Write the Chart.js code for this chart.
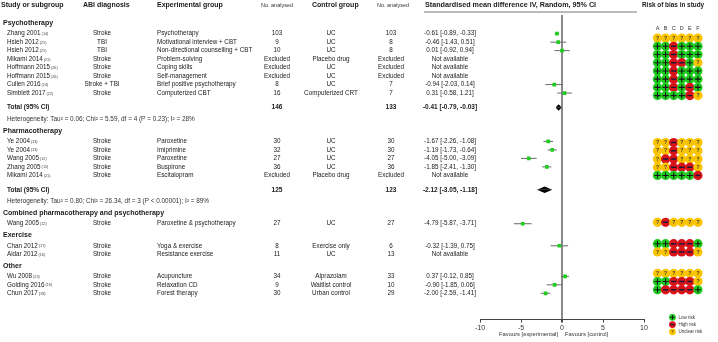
<!DOCTYPE html>
<html>
<head>
<meta charset="utf-8">
<script src="https://cdn.jsdelivr.net/npm/chart.js@4.4.1/dist/chart.umd.min.js"></script>
<style>
  html, body { margin: 0; padding: 0; background: #fff; }
  #wrap { position: relative; width: 718px; height: 342px; }
  canvas { display: block; position: absolute; top: 0; }
  #forest { left: 0; }
  #bias { left: 645px; }
</style>
</head>
<body>
<div id="wrap">
  <canvas id="forest" width="718" height="342"></canvas>
  <canvas id="bias" width="73" height="342"></canvas>
</div>
<script>
// --- données ---
var groupNames = ['Psychotherapy', 'Pharmacotherapy', 'Combined pharmacotherapy and psychotherapy', 'Exercise', 'Other'];
var studyGroup = [0, 0, 0, 0, 0, 0, 0, 0, 1, 1, 1, 1, 1, 2, 3, 3, 4, 4, 4];
var studyNames = ['Zhang 2001', 'Hsieh 2012', 'Hsieh 2012', 'Mikami 2014', 'Hoffmann 2015', 'Hoffmann 2015', 'Cullen 2016', 'Simblett 2017',
  'Ye 2004', 'Ye 2004', 'Wang 2005', 'Zhang 2005', 'Mikami 2014', 'Wang 2005', 'Chan 2012', 'Aidar 2012', 'Wu 2008', 'Golding 2016', 'Chun 2017'];
var studyRefs = ['(14)', '(25)', '(25)', '(21)', '(26)', '(26)', '(24)', '(22)', '(13)', '(13)', '(12)', '(15)', '(21)', '(12)', '(17)', '(16)', '(23)', '(19)', '(18)'];
var diagnosis = ['Stroke', 'TBI', 'TBI', 'Stroke', 'Stroke', 'Stroke', 'Stroke + TBI', 'Stroke',
  'Stroke', 'Stroke', 'Stroke', 'Stroke', 'Stroke', 'Stroke', 'Stroke', 'Stroke', 'Stroke', 'Stroke', 'Stroke'];
var experimental = ['Psychotherapy', 'Motivational interview + CBT', 'Non-directional counselling + CBT', 'Problem-solving', 'Coping skills',
  'Self-management', 'Brief positive psychotherapy', 'Computerized CBT', 'Paroxetine', 'Imiprimine', 'Paroxetine', 'Buspirone',
  'Escitalopram', 'Paroxetine & psychotherapy', 'Yoga & exercise', 'Resistance exercise', 'Acupuncture', 'Relaxation CD', 'Forest therapy'];
var nExperimental = ['103', '9', '10', 'Excluded', 'Excluded', 'Excluded', '8', '16', '30', '32', '27', '36', 'Excluded', '27', '8', '11', '34', '9', '30'];
var control = ['UC', 'UC', 'UC', 'Placebo drug', 'UC', 'UC', 'UC', 'Computerized CRT', 'UC', 'UC', 'UC', 'UC', 'Placebo drug', 'UC',
  'Exercise only', 'UC', 'Alprazolam', 'Waitlist control', 'Urban control'];
var nControl = ['103', '8', '8', 'Excluded', 'Excluded', 'Excluded', '7', '7', '30', '30', '27', '36', 'Excluded', '27', '6', '13', '33', '10', '29'];
var smd = [-0.61, -0.46, 0.01, null, null, null, -0.94, 0.31, -1.67, -1.19, -4.05, -1.85, null, -4.79, -0.32, null, 0.37, -0.90, -2.00];
var ciLow = [-0.89, -1.43, -0.92, null, null, null, -2.03, -0.58, -2.26, -1.73, -5.00, -2.41, null, -5.87, -1.39, null, -0.12, -1.85, -2.59];
var ciHigh = [-0.33, 0.51, 0.94, null, null, null, 0.14, 1.21, -1.08, -0.64, -3.09, -1.30, null, -3.71, 0.75, null, 0.85, 0.06, -1.41];
var riskOfBias = ['??????', '++-+++', '++-+++', '++--+?', '++-+++', '++-+++', '++-+-+', '++++-?',
  '??-???', '??-???', '?--???', '??---?', '+++++-', '?-????', '++---+', '??---?', '??????', '++---?', '+----+'];

var totalGroup = [0, 1];
var totalNExp = ['146', '125'];
var totalNCtrl = ['133', '123'];
var totalSmd = [-0.41, -2.12];
var totalLow = [-0.79, -3.05];
var totalHigh = [-0.03, -1.18];
var heterogeneity = ['Heterogeneity: Tau\u00b2 = 0.06; Chi\u00b2 = 5.59, df = 4 (P = 0.23); I\u00b2 = 28%',
  'Heterogeneity: Tau\u00b2 = 0.80; Chi\u00b2 = 26.34, df = 3 (P < 0.00001); I\u00b2 = 89%'];

var xTicks = [-10, -5, 0, 5, 10];
var biasDomains = ['A', 'B', 'C', 'D', 'E', 'F'];
var biasLegendCodes = ['+', '-', '?'];
var biasLegendLabels = ['Low risk', 'High risk', 'Unclear risk'];

// --- mise en page ---
var W = 718, H = 342;
var PLOT_LEFT = 480, PLOT_RIGHT = 644, PLOT_TOP = 15, PLOT_BOTTOM = 320;
var BIAS_LEFT = 645, BIAS_WIDTH = 73, BIAS_X0 = 653.3, BIAS_STEP = 9.5;
var Y_MAX = 35.9;
var UNIT_PX = (PLOT_BOTTOM - PLOT_TOP) / Y_MAX;
var STEP = { start: 1.2, headerToStudy: 1.0, study: 1, studyToTotal: 1.7, totalToHet: 1.4, nextGroup: 1.6 };
var HEADER_LIFT = 0.25;
var FONT = '"Liberation Sans", Arial, sans-serif';
var BODY = 6.3;
var GREEN = '#1fcc1f', RED = '#d8141a', YELLOW = '#fbc400';
var biasColor = { '+': GREEN, '-': RED, '?': YELLOW };

// positions des lignes
var groupY = [], studyY = [], totalY = [], hetY = [];
var cursor = STEP.start;
groupNames.forEach(function(g, gi) {
  if (gi > 0) cursor += STEP.nextGroup;
  groupY.push(cursor);
  var first = true;
  studyGroup.forEach(function(sg, si) {
    if (sg !== gi) return;
    cursor += first ? STEP.headerToStudy : STEP.study;
    first = false;
    studyY[si] = cursor;
  });
  var ti = totalGroup.indexOf(gi);
  if (ti >= 0) {
    cursor += STEP.studyToTotal; totalY[ti] = cursor;
    cursor += STEP.totalToHet; hetY[ti] = cursor;
  }
});

function fmtCI(m, lo, hi) {
  if (m === null) return 'Not available';
  return m.toFixed(2) + ' [' + lo.toFixed(2) + ', ' + hi.toFixed(2) + ']';
}

function txt(ctx, s, x, y, size, weight, align, color) {
  ctx.font = (weight || 'normal') + ' ' + size + 'px ' + FONT;
  ctx.textAlign = align || 'left';
  ctx.fillStyle = color || '#1a1a1a';
  ctx.fillText(s, x, y);
}

/* 1) graphique principal : forest plot */
var datasets = [];

// intervalles de confiance
smd.forEach(function(m, i) {
  if (m === null) return;
  datasets.push({
    type: 'line', order: 2, data: [{ x: ciLow[i], y: studyY[i] }, { x: ciHigh[i], y: studyY[i] }],
    borderColor: '#6b6b6b', borderWidth: 1, pointRadius: 0, fill: false
  });
});

// estimations
datasets.push({
  type: 'scatter', order: 1,
  data: smd.map(function(m, i) { return m === null ? null : { x: m, y: studyY[i] }; }).filter(Boolean),
  pointStyle: 'rect', pointRadius: 2.6, backgroundColor: GREEN, borderWidth: 0
});

// losanges des totaux
var DIAMOND_H = 0.38;
totalSmd.forEach(function(m, ti) {
  [-1, 1].forEach(function(dir) {
    datasets.push({
      type: 'line', order: 1,
      data: [{ x: totalLow[ti], y: totalY[ti] }, { x: m, y: totalY[ti] + dir * DIAMOND_H }, { x: totalHigh[ti], y: totalY[ti] }],
      borderWidth: 0, borderColor: '#000', backgroundColor: '#000', pointRadius: 0, tension: 0,
      fill: { value: totalY[ti] }
    });
  });
});

var tableText = {
  id: 'tableText',
  afterDraw: function(chart) {
    var ctx = chart.ctx;
    var ys = chart.scales.y, xs = chart.scales.x;
    var py = function(v) { return ys.getPixelForValue(v); };
    ctx.save();
    ctx.textBaseline = 'middle';

    // en-têtes
    var hy = py(-1.18);
    txt(ctx, 'Study or subgroup', 1, hy, 7, 'bold');
    txt(ctx, 'ABI diagnosis', 83, hy, 7, 'bold');
    txt(ctx, 'Experimental group', 157, hy, 7, 'bold');
    txt(ctx, 'No. analysed', 277, hy, 5.5, 'normal', 'center', '#333');
    txt(ctx, 'Control group', 312, hy, 7, 'bold');
    txt(ctx, 'No. analysed', 393, hy, 5.5, 'normal', 'center', '#333');
    txt(ctx, 'Standardised mean difference IV, Random, 95% CI', 425, hy, 7.2, 'bold');
    txt(ctx, 'Risk of bias in study', 642, hy, 6.4, 'bold');
    ctx.strokeStyle = '#555';
    ctx.lineWidth = 0.8;
    ctx.beginPath();
    ctx.moveTo(424, py(-0.35)); ctx.lineTo(637, py(-0.35));
    ctx.stroke();

    // groupes
    groupNames.forEach(function(g, gi) { txt(ctx, g, 3, py(groupY[gi] - HEADER_LIFT), 7, 'bold'); });

    // études
    studyNames.forEach(function(n, i) {
      var y = py(studyY[i]);
      txt(ctx, n, 7, y, BODY);
      var w = ctx.measureText(n).width;
      txt(ctx, studyRefs[i], 7 + w + 1, y + 0.5, 3.8, 'normal', 'left', '#444');
      txt(ctx, diagnosis[i], 102, y, BODY, 'normal', 'center');
      txt(ctx, experimental[i], 157, y, BODY);
      txt(ctx, nExperimental[i], 277, y, BODY, 'normal', 'center');
      txt(ctx, control[i], 331, y, BODY, 'normal', 'center');
      txt(ctx, nControl[i], 391, y, BODY, 'normal', 'center');
      txt(ctx, fmtCI(smd[i], ciLow[i], ciHigh[i]), 450, y, BODY, 'normal', 'center');
    });

    // totaux
    totalGroup.forEach(function(g, ti) {
      var y = py(totalY[ti]);
      txt(ctx, 'Total (95% CI)', 7, y, 6.5, 'bold');
      txt(ctx, totalNExp[ti], 277, y, 6.5, 'bold', 'center');
      txt(ctx, totalNCtrl[ti], 391, y, 6.5, 'bold', 'center');
      txt(ctx, fmtCI(totalSmd[ti], totalLow[ti], totalHigh[ti]), 450, y, 6.5, 'bold', 'center');
      txt(ctx, heterogeneity[ti], 7, py(hetY[ti]), 6.4, 'normal', 'left', '#333');
    });

    // favours
    var x0 = xs.getPixelForValue(0);
    var fy = PLOT_BOTTOM + 14.5;
    txt(ctx, 'Favours [experimental]', x0 - 4, fy, 5.8, 'normal', 'right', '#333');
    txt(ctx, 'Favours [control]', x0 + 3, fy, 5.8, 'normal', 'left', '#333');
    ctx.restore();
  }
};

new Chart(document.getElementById('forest'), {
  type: 'scatter',
  data: { datasets: datasets },
  options: {
    responsive: false,
    devicePixelRatio: 1,
    animation: false,
    events: [],
    layout: { padding: { left: PLOT_LEFT, right: W - PLOT_RIGHT, top: PLOT_TOP, bottom: 9 } },
    plugins: { legend: { display: false }, tooltip: { enabled: false } },
    scales: {
      x: {
        type: 'linear', min: -10, max: 10,
        afterBuildTicks: function(axis) { axis.ticks = xTicks.map(function(v) { return { value: v }; }); },
        ticks: { font: { size: 7, family: FONT }, color: '#333', padding: 1, maxRotation: 0 },
        grid: {
          color: function(c) { return c.tick && c.tick.value === 0 ? '#8a8a8a' : 'rgba(0,0,0,0)'; },
          lineWidth: function(c) { return c.tick && c.tick.value === 0 ? 2 : 1; },
          tickColor: '#444', tickLength: 3
        },
        border: { display: true, color: '#444', width: 1 }
      },
      y: { type: 'linear', display: false, reverse: true, min: 0, max: Y_MAX }
    }
  },
  plugins: [tableText]
});

/* 2) risque de biais */
var biasPts = [], biasCols = [], plusPts = [], minusPts = [], questionPts = [];
riskOfBias.forEach(function(codes, si) {
  codes.split('').forEach(function(c, d) {
    var p = { x: d, y: studyY[si] };
    biasPts.push(p); biasCols.push(biasColor[c]);
    if (c === '+') plusPts.push(p); else if (c === '-') minusPts.push(p); else questionPts.push(p);
  });
});
var LEGEND_X = 1.85, LEGEND_Y0 = Y_MAX + 0.25, LEGEND_STEP = 0.88;
var legendPts = [], legendPlus = [], legendMinus = [], legendQuestion = [];
biasLegendCodes.forEach(function(c, k) {
  var p = { x: LEGEND_X, y: LEGEND_Y0 + k * LEGEND_STEP };
  legendPts.push(p);
  if (c === '+') legendPlus.push(p); else if (c === '-') legendMinus.push(p); else legendQuestion.push(p);
});

var biasText = {
  id: 'biasText',
  afterDraw: function(chart) {
    var ctx = chart.ctx;
    var xb = chart.scales.x, ys = chart.scales.y;
    ctx.save();
    ctx.textBaseline = 'middle';
    biasDomains.forEach(function(d, k) {
      txt(ctx, d, xb.getPixelForValue(k), ys.getPixelForValue(groupY[0] - HEADER_LIFT) + 0.5, 5.5, 'normal', 'center', '#333');
    });
    questionPts.forEach(function(p) {
      txt(ctx, '?', xb.getPixelForValue(p.x), ys.getPixelForValue(p.y) + 0.3, 5, 'bold', 'center', '#333');
    });
    legendQuestion.forEach(function(p) {
      txt(ctx, '?', xb.getPixelForValue(p.x), ys.getPixelForValue(p.y) + 0.3, 4, 'bold', 'center', '#333');
    });
    biasLegendLabels.forEach(function(l, k) {
      txt(ctx, l, xb.getPixelForValue(LEGEND_X) + 6, ys.getPixelForValue(LEGEND_Y0 + k * LEGEND_STEP), 4.5, 'normal', 'left', '#333');
    });
    ctx.restore();
  }
};

var biasMin = -(BIAS_X0 - BIAS_LEFT) / BIAS_STEP;
new Chart(document.getElementById('bias'), {
  type: 'scatter',
  data: {
    datasets: [
      { order: 2, data: biasPts, pointStyle: 'circle', pointRadius: 4.6, backgroundColor: biasCols, borderWidth: 0 },
      { order: 2, data: legendPts, pointStyle: 'circle', pointRadius: 3.4,
        backgroundColor: biasLegendCodes.map(function(c) { return biasColor[c]; }), borderWidth: 0 },
      { order: 1, data: plusPts, pointStyle: 'cross', pointRadius: 3, borderColor: '#111', borderWidth: 1.1 },
      { order: 1, data: minusPts, pointStyle: 'line', pointRadius: 2.6, borderColor: '#1c1838', borderWidth: 1.4 },
      { order: 1, data: legendPlus, pointStyle: 'cross', pointRadius: 2.2, borderColor: '#111', borderWidth: 1 },
      { order: 1, data: legendMinus, pointStyle: 'line', pointRadius: 2, borderColor: '#1c1838', borderWidth: 1.2 }
    ]
  },
  options: {
    responsive: false,
    devicePixelRatio: 1,
    animation: false,
    events: [],
    layout: { padding: 0 },
    plugins: { legend: { display: false }, tooltip: { enabled: false } },
    scales: {
      x: { type: 'linear', display: false, min: biasMin, max: biasMin + BIAS_WIDTH / BIAS_STEP },
      y: { type: 'linear', display: false, reverse: true, min: -PLOT_TOP / UNIT_PX, max: (H - PLOT_TOP) / UNIT_PX }
    }
  },
  plugins: [biasText]
});
</script>
</body>
</html>
